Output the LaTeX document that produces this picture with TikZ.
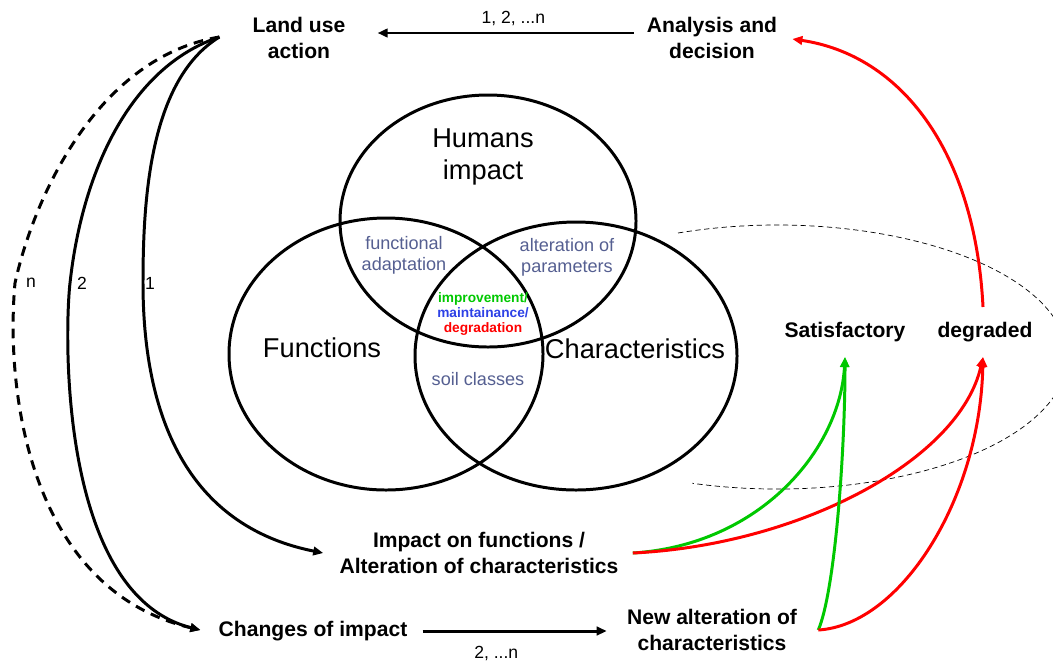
\documentclass[tikz,border=0pt]{standalone}
\usepackage{fontspec}
\setmainfont{Liberation Sans}
\usetikzlibrary{arrows.meta}
\definecolor{slate}{RGB}{85,95,145}
\definecolor{okgreen}{RGB}{0,200,0}
\definecolor{midblue}{RGB}{45,65,230}
\tikzset{
	venn/.style = {
		draw = black,
		line width = 1.7pt
	},
	title/.style = {
		font = \fontsize{12}{14.5}\selectfont\bfseries,
		align = center,
		inner sep = 0pt
	},
	big/.style = {
		font = \fontsize{15.5}{18}\selectfont,
		align = center,
		inner sep = 0pt
	},
	zone/.style = {
		font = \fontsize{10.3}{12}\selectfont,
		text = slate,
		align = center,
		inner sep = 0pt
	},
	small/.style = {
		font = \fontsize{10}{12}\selectfont
	},
	flow/.style = {
		line width = 1.7pt,
		-{Triangle[length = 0.2cm, width = 0.17cm]}
	},
	good/.style = {flow, color = okgreen},
	bad/.style = {flow, color = red}
}

\begin{document}
\begin{tikzpicture}[x = 0.02cm, y = -0.02cm, line join = round]
    \useasboundingbox (0,0) rectangle (1053,660) ;

    \draw [venn] (488,221) ellipse [x radius = 148, y radius = 126] ;
    \draw [venn] (386,354) ellipse [x radius = 157, y radius = 136] ;
    \draw [venn] (576,356) ellipse [x radius = 161, y radius = 134] ;
    \begin{scope}
        \clip (0,0) rectangle (1053,660) ;
        \draw [thin, dash pattern = on 3pt off 2pt] (678,233) arc [start angle = -110, end angle = 107, x radius = 290, y radius = 132] ;
    \end{scope}

    \node [big] (humans) at (483,157) {Humans\\impact} ;
    \node [big] (functions) at (322,348) {Functions} ;
    \node [big] (characteristics) at (635,349) {Characteristics} ;
    \node [zone] (adaptation) at (404,255) {functional\\adaptation} ;
    \node [zone] (parameters) at (567,257) {alteration of\\parameters} ;
    \node [zone] (classes) at (478,379) {soil classes} ;
    \node [font = \fontsize{7.8}{8.6}\selectfont\bfseries, align = center, inner sep = 0pt] (state) at (483,314) {\textcolor{okgreen}{improvement/}\\\textcolor{midblue}{maintainance/}\\\textcolor{red}{degradation}} ;

    \node [title] (lua) at (299,38) {Land use\\action} ;
    \node [title] (ana) at (712,38) {Analysis and\\decision} ;
    \node [title] (imp) at (479,553) {Impact on functions /\\Alteration of characteristics} ;
    \node [title] (chg) at (313,631) {Changes of impact} ;
    \node [title] (new) at (712,630) {New alteration of\\characteristics} ;
    \node [title] (sat) at (845,332) {Satisfactory} ;
    \node [title] (deg) at (985,332) {degraded} ;

    \node [small] (labn) at (31,283) {n} ;
    \node [small] (lab2) at (82,283) {2} ;
    \node [small] (lab1) at (150,283) {1} ;

    \draw [flow] ([shift = {(-13,-5)}]ana.west) -- node [above, pos = 0.47, small] (allruns) {1, 2, ...n} ([shift = {(32,-5)}]lua.east) ;
    \draw [flow] ([shift = {(15,0)}]chg.east) -- node [below = 0.15cm, pos = 0.4, small] (laterruns) {2, ...n} ([shift = {(-20,1)}]new.west) ;

    \draw [flow] ([shift = {(-33,-1)}]lua.west) .. controls +(-70,43) and +(0,-83) .. (143,283) .. controls +(0,110) and +(-150,-30) .. ([shift = {(-16,0)}]imp.west) ;
    \draw [flow] ([shift = {(-33,-1)}]lua.west) .. controls +(-90,30) and +(12,-110) .. (70,283) .. controls +(-6,55) and +(-140,-35) .. ([shift = {(-18,-1)}]chg.west) ;
    \draw [flow, dash pattern = on 5.5pt off 4pt] ([shift = {(-33,-1)}]lua.west) .. controls +(-120,20) and +(20,-90) .. (15,283) .. controls +(-10,110) and +(-170,-40) .. ([shift = {(-18,-1)}]chg.west) ;

    \draw [good] ([shift = {(14,0)}]imp.east) .. controls +(127,-8) and +(-5,93) .. ([shift = {(0,25)}]sat.center) ;
    \draw [bad] ([shift = {(14,0)}]imp.east) .. controls +(167,-8) and +(-23,103) .. ([shift = {(-2,25)}]deg.center) ;
    \draw [good] ([shift = {(21,0)}]new.east) .. controls +(17,-40) and +(0,93) .. ([shift = {(0,25)}]sat.center) ;
    \draw [bad] ([shift = {(21,0)}]new.east) .. controls +(82,-5) and +(-3,143) .. ([shift = {(-2,25)}]deg.center) ;
    \draw [bad] ([shift = {(-2,-25)}]deg.center) .. controls +(-8,-157) and +(108,16) .. ([shift = {(15,1)}]ana.east) ;
\end{tikzpicture}
\end{document}
